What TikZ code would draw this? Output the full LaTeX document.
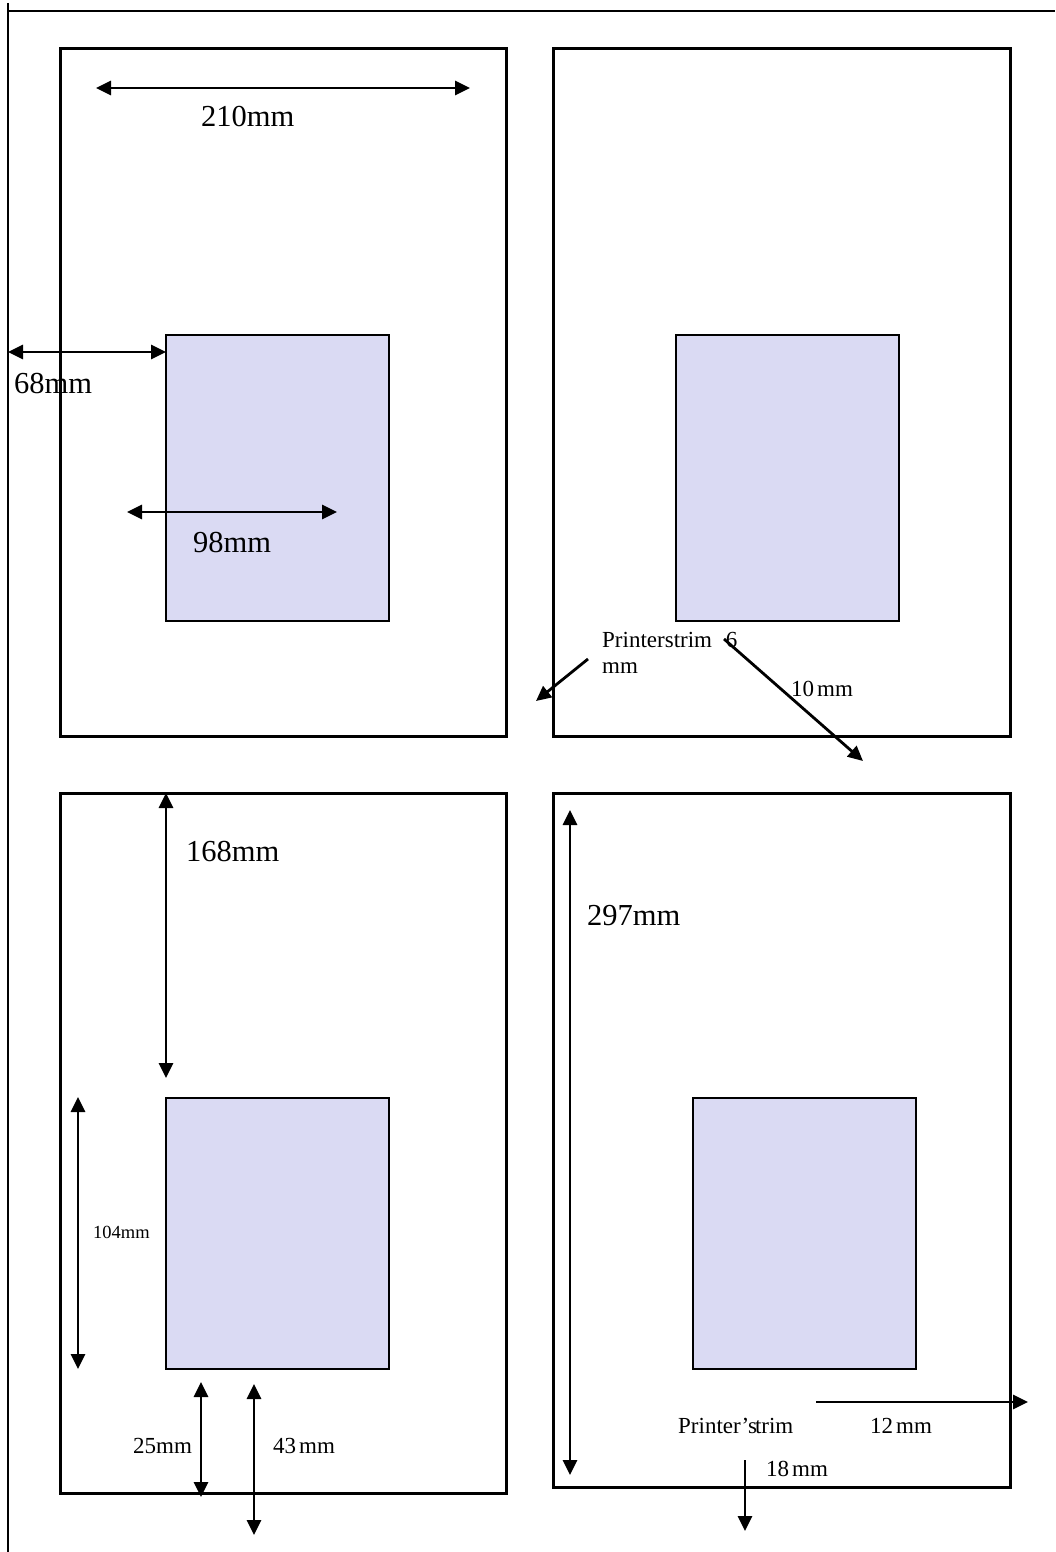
\documentclass[tikz,border=0pt]{standalone}
\usepackage{fontspec}
\setmainfont{Liberation Serif}
\usetikzlibrary{arrows.meta}
\definecolor{areablue}{RGB}{218,218,243}
\tikzset{
  page/.style={draw=black, line width=3pt},
  textarea/.style={draw=black, line width=2.8pt, fill=areablue},
  frameline/.style={draw=black, line width=2.4pt},
  dim/.style={line width=2.8pt, {Triangle[length=15pt,width=14pt]}-{Triangle[length=15pt,width=14pt]}},
  pointer/.style={line width=2.8pt, -{Triangle[length=15pt,width=14pt]}},
  biglabel/.style={inner sep=0pt, anchor=base west, font=\fontsize{30.5}{36}\selectfont},
  midlabel/.style={inner sep=0pt, anchor=base west, font=\fontsize{23}{27}\selectfont},
  smalllabel/.style={inner sep=0pt, anchor=base west, font=\fontsize{18.5}{22}\selectfont},
}
\begin{document}
\begin{tikzpicture}[x=1pt,y=-1pt]
\useasboundingbox (0,0) rectangle (1055,1552);
% outer frame lines
\coordinate (frameTL) at (8,11);
\coordinate (frameTR) at (1055,11);
\coordinate (frameTop) at (8,3);
\coordinate (frameBot) at (8,1552);
\draw[frameline] (frameTL) -- (frameTR);
\draw[frameline] (frameTop) -- (frameBot);

% pages
\draw[page] (60,49) rectangle (506,736);
\draw[page] (553,49) rectangle (1010,736);
\draw[page] (60,793) rectangle (506,1493);
\draw[page] (553,793) rectangle (1010,1487);

% text areas
\draw[textarea] (166,335) rectangle (389,621);
\draw[textarea] (676,335) rectangle (899,621);
\draw[textarea] (166,1098) rectangle (389,1369);
\draw[textarea] (693,1098) rectangle (916,1369);

% ---- page 1 ----
\coordinate (a210l) at (96,88);
\coordinate (a210r) at (470,88);
\draw[dim] (a210l) -- (a210r);
\node[biglabel] (l210) at (201,127) {210mm};

\coordinate (a68l) at (8,352);
\coordinate (a68r) at (166,352);
\draw[dim] (a68l) -- (a68r);
\node[biglabel] (l68) at (14,393) {68mm};

\coordinate (a98l) at (127,512);
\coordinate (a98r) at (337,512);
\draw[dim] (a98l) -- (a98r);
\node[biglabel] (l98) at (193,552) {98mm};

% ---- page 2 ----
\node[midlabel] (ltrim1) at (602,647) {Printerstrim \hspace{8pt}6};
\node[midlabel] (ltrim1b) at (602,673) {mm};
\coordinate (p6s) at (588,659);
\coordinate (p6e) at (536,701);
\draw[pointer] (p6s) -- (p6e);
\coordinate (p10s) at (724,639);
\coordinate (p10e) at (863,761);
\draw[pointer] (p10s) -- (p10e);
\node[midlabel] (l10) at (791,696) {10\kern3pt mm};

% ---- page 3 ----
\coordinate (a168t) at (166,793);
\coordinate (a168b) at (166,1078);
\draw[dim] (a168t) -- (a168b);
\node[biglabel] (l168) at (186,861) {168mm};

\coordinate (a104t) at (78,1097);
\coordinate (a104b) at (78,1369);
\draw[dim] (a104t) -- (a104b);
\node[smalllabel] (l104) at (93,1238) {104mm};

\coordinate (a25t) at (201,1382);
\coordinate (a25b) at (201,1497);
\draw[dim] (a25t) -- (a25b);
\node[midlabel] (l25) at (133,1453) {25mm};

\coordinate (a43t) at (254,1384);
\coordinate (a43b) at (254,1535);
\draw[dim] (a43t) -- (a43b);
\node[midlabel] (l43) at (273,1453) {43\kern3pt mm};

% ---- page 4 ----
\coordinate (a297t) at (570,810);
\coordinate (a297b) at (570,1475);
\draw[dim] (a297t) -- (a297b);
\node[biglabel] (l297) at (587,925) {297mm};

\coordinate (p12s) at (816,1402);
\coordinate (p12e) at (1028,1402);
\draw[pointer] (p12s) -- (p12e);
\node[midlabel] (ltrim2) at (678,1433) {Printer’s\kern-2pt trim};
\node[midlabel] (l12) at (870,1433) {12\kern3pt mm};

\coordinate (p18s) at (745,1460);
\coordinate (p18e) at (745,1531);
\draw[pointer] (p18s) -- (p18e);
\node[midlabel] (l18) at (766,1476) {18\kern3pt mm};
\end{tikzpicture}
\end{document}
